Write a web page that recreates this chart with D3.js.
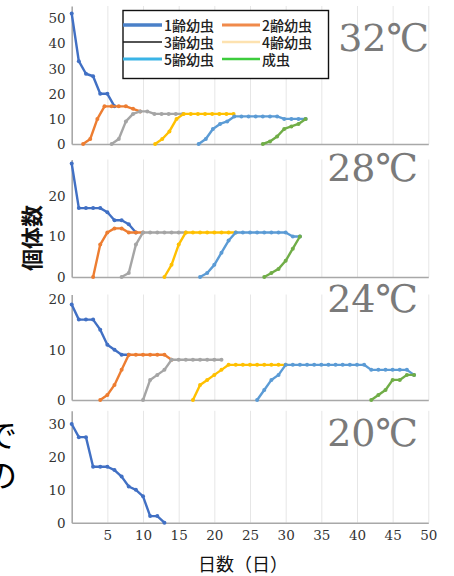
<!DOCTYPE html>
<html><head><meta charset="utf-8">
<script src="https://cdn.jsdelivr.net/npm/d3@7"></script>
<style>body{margin:0;background:#fff}svg{display:block}
.serif{font-family:"DejaVu Serif",serif}
.jp{font-family:"Noto Sans CJK JP","Noto Sans",sans-serif}
</style>
</head><body>
<svg id="c" width="454" height="576"></svg>
<script>
// ---------- data ----------
const stages = ["1齢幼虫","2齢幼虫","3齢幼虫","4齢幼虫","5齢幼虫","成虫"];
const temps = ["32℃","28℃","24℃","20℃"];
const xTicks = [5,10,15,20,25,30,35,40,45,50];
const yTicks = [[0,10,20,30,40,50],[0,10,20],[0,10,20],[0,10,20,30]];
const yMax = [55, 29, 21, 34];
const xLabel = "日数（日）";
const yLabel = "個体数";

// first observation day of each stage (points follow at 1-day steps)
const start32 = [0, 1.6, 5.6, 11.7, 17.8, 26.8];
const s32_1 = [52, 33, 28, 27, 20, 20, 15];
const s32_2 = [0, 2, 10, 15, 15, 15, 15, 14, 13];
const s32_3 = [0, 2, 9, 12, 13, 13, 12, 12, 12, 12, 12];
const s32_4 = [0, 2, 5, 10, 12, 12, 12, 12, 12, 12, 12, 12];
const s32_5 = [0, 2, 6, 8, 9, 11, 11, 11, 11, 11, 11, 11, 10, 10, 10, 10];
const s32_a = [0, 1, 3, 6, 7, 8, 10];

const start28 = [0, 3, 7, 13, 18, 27];
const s28_1 = [28, 17, 17, 17, 17, 16, 14, 14, 13, 11];
const s28_2 = [0, 8, 11, 12, 12, 11, 11, 11];
const s28_3 = [0, 1, 8, 11, 11, 11, 11, 11, 11, 11];
const s28_4 = [0, 3, 8, 11, 11, 11, 11, 11, 11, 11, 11];
const s28_5 = [0, 1, 3, 6, 9, 11, 11, 11, 11, 11, 11, 11, 11, 10, 10];
const s28_a = [0, 1, 2, 4, 7, 10];

const start24 = [0, 4, 10, 17, 26, 42];
const s24_1 = [19, 16, 16, 16, 14, 11, 10, 9, 9];
const s24_2 = [0, 1, 3, 6, 9, 9, 9, 9, 9, 9, 8];
const s24_3 = [0, 4, 5, 6, 8, 8, 8, 8, 8, 8, 8, 8];
const s24_4 = [0, 3, 4, 5, 6, 7, 7, 7, 7, 7, 7, 7, 7, 7];
const s24_5 = [0, 2, 4, 5, 7, 7, 7, 7, 7, 7, 7, 7, 7, 7, 7, 7, 6, 6, 6, 6, 6, 6, 5];
const s24_a = [0, 1, 2, 4, 4, 5, 5];

const start20 = [0];
const s20_1 = [30, 26, 26, 17, 17, 17, 16, 14, 11, 10, 8, 2, 2, 0];

const panelStarts = [start32, start28, start24, start20];
const panelSeries = [
  [s32_1, s32_2, s32_3, s32_4, s32_5, s32_a],
  [s28_1, s28_2, s28_3, s28_4, s28_5, s28_a],
  [s24_1, s24_2, s24_3, s24_4, s24_5, s24_a],
  [s20_1]
];

// ---------- styles / layout ----------
const lineColors = ["#4170c4","#ed7d31","#a5a5a5","#ffc000","#5b9bd5","#70ad47"];
const legendColors = ["#4a80c8","#f08a4b","#1a1a1a","#fde2b0","#3ab4e6","#3dcc3d"];
const legendWidths = [3.5, 3, 1.3, 2.5, 3, 2.5];
const panelBottom = [144, 277, 400, 522.7];
const panelTop = [6, 159.5, 294.5, 410.8];
const tempRight = [429, 418, 418, 418];
const tempBase = [51, 181, 312, 446];

const svg = d3.select("#c");
const x = d3.scaleLinear().domain([0, 50]).range([71.7, 428.3]);

panelSeries.forEach((series, p) => {
  const y = d3.scaleLinear().domain([0, yMax[p]]).range([panelBottom[p], panelTop[p]]);
  const g = svg.append("g");
  const h = panelBottom[p] - panelTop[p];

  // vertical grid
  g.append("g").attr("transform", `translate(0,${panelBottom[p]})`)
    .call(d3.axisBottom(x).tickValues(xTicks).tickSize(-h).tickFormat(""))
    .call(a => a.select(".domain").remove())
    .call(a => a.selectAll("line").attr("stroke", "#e6e6e6").attr("stroke-width", 1));

  // x axis
  const xa = g.append("g").attr("transform", `translate(0,${panelBottom[p]})`)
    .call(d3.axisBottom(x).tickValues(xTicks).tickSize(0).tickSizeOuter(0).tickPadding(8)
      .tickFormat(p === 3 ? d3.format("d") : ""));
  xa.attr("font-family", null);
  xa.select(".domain").attr("stroke", "#a8a8a8").attr("stroke-width", 1.6);
  xa.selectAll("text").attr("class", "serif").attr("font-size", 13.5).attr("fill", "#333");

  // y axis
  const ya = g.append("g").attr("transform", `translate(${x(0)},0)`)
    .call(d3.axisLeft(y).tickValues(yTicks[p]).tickSize(0).tickSizeOuter(0).tickPadding(6));
  ya.attr("font-family", null);
  ya.select(".domain").attr("stroke", "#a8a8a8").attr("stroke-width", 1.6);
  ya.selectAll("text").attr("class", "serif").attr("font-size", 13.5).attr("fill", "#333");

  // series lines and markers
  const line = d3.line().x(d => x(d[0])).y(d => y(d[1]));
  series.forEach((vals, s) => {
    const pts = vals.map((v, i) => [panelStarts[p][s] + i, v]);
    g.append("path").datum(pts).attr("d", line)
      .attr("fill", "none").attr("stroke", lineColors[s]).attr("stroke-width", 2.4)
      .attr("stroke-linejoin", "round");
    g.selectAll(null).data(pts).join("circle")
      .attr("cx", d => x(d[0])).attr("cy", d => y(d[1])).attr("r", 2)
      .attr("fill", lineColors[s]);
  });

  // temperature label
  svg.append("text").attr("class", "serif").attr("x", tempRight[p]).attr("y", tempBase[p])
    .attr("text-anchor", "end").attr("font-size", 38)
    .attr("fill", "#7a7a7a").text(temps[p]);
});

// legend
const lg = svg.append("g");
lg.append("rect").attr("x", 123).attr("y", 10.5).attr("width", 205.5).attr("height", 68)
  .attr("fill", "#fff").attr("stroke", "#111").attr("stroke-width", 1.4);
const colX = [123, 222], colLen = [39, 38], rowY = [25, 42, 59];
stages.forEach((name, i) => {
  const c = i % 2, r = Math.floor(i / 2);
  lg.append("line").attr("x1", colX[c]).attr("x2", colX[c] + colLen[c])
    .attr("y1", rowY[r]).attr("y2", rowY[r])
    .attr("stroke", legendColors[i]).attr("stroke-width", legendWidths[i]);
  lg.append("text").attr("class", "jp").attr("x", colX[c] + colLen[c] + 2).attr("y", rowY[r])
    .attr("dominant-baseline", "central")
    .attr("font-size", 14).attr("font-weight", 500).attr("fill", "#222").text(name);
});

// axis titles
svg.append("text").attr("class", "jp").attr("x", 243).attr("y", 571).attr("text-anchor", "middle")
  .attr("font-size", 18).attr("fill", "#111").text(xLabel);
svg.append("text").attr("class", "jp").attr("transform", "translate(40,238) rotate(-90)")
  .attr("text-anchor", "middle").attr("font-size", 22)
  .attr("font-weight", 700).attr("fill", "#111").text(yLabel);

// slide text cut off at the left edge
svg.append("text").attr("class", "jp").attr("x", -15).attr("y", 447)
  .attr("font-size", 32).attr("fill", "#000").text("で");
svg.append("text").attr("class", "jp").attr("x", -15).attr("y", 487)
  .attr("font-size", 32).attr("fill", "#000").text("の");
</script>
</body></html>
